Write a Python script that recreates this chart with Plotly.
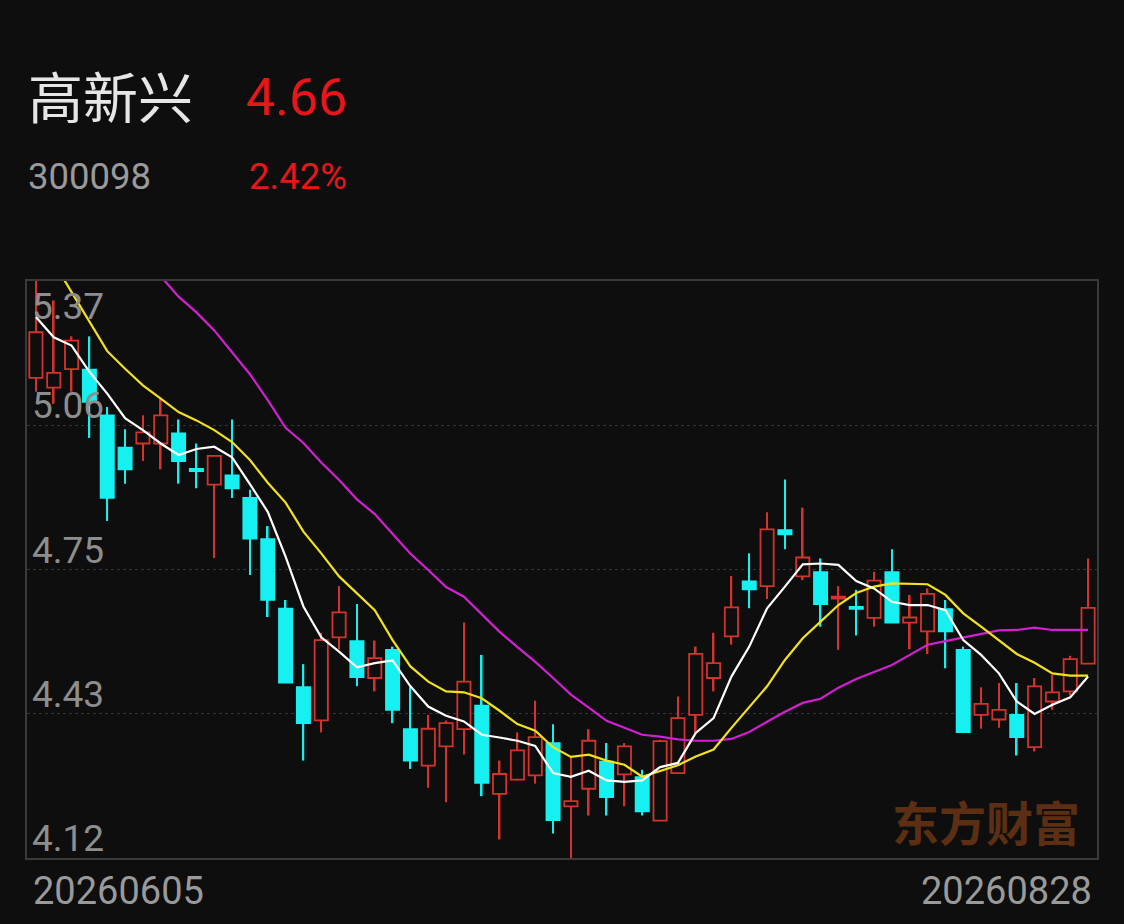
import pandas as pd
import plotly.graph_objects as go

# --- data ---
stock_name = "高新兴"
stock_code = "300098"
last_price = "4.66"
pct_change = "2.42%"

# trading days 2026-06-05 .. 2026-08-28 (Dragon Boat holiday 06-19 closed)
days = pd.bdate_range("2026-06-05", "2026-08-28")
days = days[days != pd.Timestamp("2026-06-19")]
dates = [d.strftime("%Y%m%d") for d in days]

opens = [5.160, 5.139, 5.179, 5.178, 5.079, 5.009, 5.018, 5.018, 5.040, 4.963,
         4.929, 4.949, 4.900, 4.811, 4.660, 4.490, 4.418, 4.598, 4.590, 4.510,
         4.571, 4.399, 4.320, 4.362, 4.399, 4.450, 4.259, 4.290, 4.299, 4.369,
         4.232, 4.270, 4.329, 4.301, 4.295, 4.201, 4.304, 4.430, 4.510, 4.600,
         4.719, 4.709, 4.830, 4.730, 4.739, 4.682, 4.664, 4.640, 4.739, 4.630,
         4.611, 4.659, 4.571, 4.430, 4.420, 4.430, 4.360, 4.459, 4.481, 4.541]
highs = [5.380, 5.328, 5.250, 5.250, 5.097, 5.049, 5.079, 5.115, 5.070, 5.018,
         4.993, 5.070, 4.918, 4.839, 4.679, 4.540, 4.608, 4.709, 4.670, 4.591,
         4.578, 4.490, 4.430, 4.418, 4.630, 4.560, 4.331, 4.392, 4.461, 4.410,
         4.340, 4.399, 4.369, 4.369, 4.311, 4.376, 4.470, 4.578, 4.608, 4.731,
         4.780, 4.869, 4.940, 4.879, 4.769, 4.709, 4.701, 4.740, 4.789, 4.690,
         4.704, 4.679, 4.578, 4.490, 4.499, 4.499, 4.510, 4.517, 4.558, 4.769]
lows = [5.130, 5.104, 5.130, 5.030, 4.850, 4.931, 4.980, 4.962, 4.931, 4.921,
        4.770, 4.900, 4.733, 4.642, 4.500, 4.331, 4.392, 4.572, 4.492, 4.481,
        4.412, 4.313, 4.272, 4.241, 4.344, 4.254, 4.160, 4.288, 4.281, 4.173,
        4.110, 4.212, 4.212, 4.232, 4.212, 4.200, 4.302, 4.391, 4.481, 4.582,
        4.661, 4.681, 4.789, 4.722, 4.621, 4.571, 4.602, 4.621, 4.630, 4.572,
        4.562, 4.531, 4.393, 4.400, 4.402, 4.342, 4.351, 4.441, 4.472, 4.541]
closes = [5.259, 5.171, 5.241, 5.108, 4.900, 4.962, 5.042, 5.079, 4.980, 4.958,
          4.991, 4.921, 4.812, 4.679, 4.500, 4.412, 4.592, 4.652, 4.512, 4.553,
          4.441, 4.331, 4.400, 4.412, 4.502, 4.283, 4.302, 4.353, 4.382, 4.202,
          4.243, 4.374, 4.252, 4.362, 4.221, 4.373, 4.423, 4.562, 4.542, 4.663,
          4.702, 4.832, 4.821, 4.771, 4.670, 4.686, 4.660, 4.721, 4.630, 4.641,
          4.692, 4.611, 4.393, 4.454, 4.441, 4.382, 4.492, 4.479, 4.551, 4.662]

ma5 = [5.292, 5.248, 5.230, 5.173, 5.126, 5.073, 5.047, 5.018, 4.993, 5.006,
       5.011, 4.988, 4.930, 4.870, 4.773, 4.665, 4.598, 4.567, 4.533, 4.542,
       4.548, 4.492, 4.448, 4.428, 4.416, 4.387, 4.381, 4.374, 4.363, 4.304,
       4.296, 4.309, 4.288, 4.285, 4.288, 4.317, 4.326, 4.391, 4.423, 4.513,
       4.578, 4.661, 4.708, 4.756, 4.758, 4.755, 4.720, 4.704, 4.675, 4.668,
       4.668, 4.657, 4.592, 4.560, 4.520, 4.459, 4.432, 4.452, 4.468, 4.513]
ma10 = [5.470, 5.410, 5.346, 5.281, 5.218, 5.180, 5.144, 5.115, 5.086, 5.068,
        5.047, 5.021, 4.982, 4.933, 4.890, 4.827, 4.780, 4.730, 4.694, 4.657,
        4.592, 4.535, 4.502, 4.481, 4.479, 4.466, 4.439, 4.410, 4.396, 4.360,
        4.339, 4.344, 4.331, 4.322, 4.296, 4.308, 4.321, 4.340, 4.355, 4.402,
        4.448, 4.492, 4.549, 4.596, 4.632, 4.668, 4.694, 4.708, 4.715, 4.714,
        4.713, 4.690, 4.650, 4.621, 4.592, 4.562, 4.543, 4.520, 4.515, 4.515]
ma20 = [5.660, 5.620, 5.580, 5.540, 5.500, 5.460, 5.420, 5.380, 5.336, 5.302,
        5.263, 5.215, 5.168, 5.112, 5.052, 5.019, 4.977, 4.939, 4.897, 4.865,
        4.822, 4.779, 4.744, 4.707, 4.686, 4.647, 4.610, 4.577, 4.545, 4.510,
        4.474, 4.446, 4.417, 4.402, 4.387, 4.383, 4.377, 4.374, 4.374, 4.378,
        4.393, 4.415, 4.437, 4.456, 4.465, 4.489, 4.508, 4.523, 4.538, 4.560,
        4.582, 4.590, 4.598, 4.606, 4.613, 4.614, 4.619, 4.614, 4.614, 4.614]

y_ticks = [4.12, 4.4325, 4.745, 5.0575, 5.37]
y_tick_text = ["4.12", "4.43", "4.75", "5.06", "5.37"]

# --- look ---
BG = "#0e0e0e"
RED = "#d2342c"
CYAN = "#16f0f0"
FONT = "Roboto, Noto Sans CJK SC, sans-serif"
W, H = 1124, 924
L, R, T, B = 27, 27, 281, 66


def px(x):
    return (x - L) / (W - L - R)


def py(y):
    return (H - B - y) / (H - T - B)


up = [c >= o for o, c in zip(opens, closes)]
colors = [RED if u else CYAN for u in up]
fills = [BG if u else CYAN for u in up]

fig = go.Figure()
# wicks: thin bars from low to high
fig.add_trace(go.Bar(
    x=dates, base=lows, y=[h - l for h, l in zip(highs, lows)], width=0.09,
    marker=dict(color=colors, line=dict(width=0)),
    showlegend=False, hoverinfo="skip",
))
# bodies: hollow red for up days, solid cyan for down days
fig.add_trace(go.Bar(
    x=dates, base=[min(o, c) for o, c in zip(opens, closes)],
    y=[max(abs(c - o), 0.003) for o, c in zip(opens, closes)], width=0.74,
    marker=dict(color=fills, line=dict(color=colors, width=1.8)),
    showlegend=False, hoverinfo="skip",
))
for vals, col in [(ma20, "#d21fd2"), (ma10, "#f2e21c"), (ma5, "#ffffff")]:
    fig.add_trace(go.Scatter(x=dates, y=vals, mode="lines",
                             line=dict(color=col, width=2.2), showlegend=False,
                             hoverinfo="skip"))

ann = []
# header
ann.append(dict(text=stock_name, x=px(26), y=py(94), xanchor="left", yanchor="middle",
                font=dict(size=55, color="#e6e6e6", family="Noto Sans CJK SC")))
ann.append(dict(text=last_price, x=px(244), y=py(97), xanchor="left", yanchor="middle",
                font=dict(size=52, color="#e8161a", family=FONT)))
ann.append(dict(text=stock_code, x=px(26), y=py(176), xanchor="left", yanchor="middle",
                font=dict(size=36.5, color="#9a9a9a", family=FONT)))
ann.append(dict(text=pct_change, x=px(247), y=py(176), xanchor="left", yanchor="middle",
                font=dict(size=36.5, color="#e8161a", family=FONT)))
# y labels inside plot, sitting above their grid lines
for v, t in zip(y_ticks, y_tick_text):
    top = v == y_ticks[-1]
    ann.append(dict(text=t, xref="paper", yref="y", x=px(30), y=v,
                    xanchor="left", yanchor="top" if top else "bottom",
                    yshift=-2 if top else -4,
                    font=dict(size=37, color="#8e8e8e", family=FONT)))
# date labels under the plot
ann.append(dict(text=dates[0], x=px(31), y=py(891), xanchor="left", yanchor="middle",
                font=dict(size=38, color="#9a9a9a", family=FONT)))
ann.append(dict(text=dates[-1], x=px(1094), y=py(891), xanchor="right", yanchor="middle",
                font=dict(size=38, color="#9a9a9a", family=FONT)))
# watermark
ann.append(dict(text="<b>东方财富</b>", x=px(986), y=py(820), xanchor="center", yanchor="middle",
                font=dict(size=47, color="#5c2e14", family="Noto Sans CJK SC")))
for a in ann:
    a.setdefault("xref", "paper")
    a.setdefault("yref", "paper")
    a["showarrow"] = False

fig.update_layout(
    width=W, height=H,
    margin=dict(l=L, r=R, t=T, b=B),
    paper_bgcolor=BG, plot_bgcolor=BG,
    barmode="overlay",
    annotations=ann,
    xaxis=dict(type="category", range=[-0.5, len(dates) - 0.5], showticklabels=False,
               showgrid=False, zeroline=False,
               showline=True, mirror=True, linecolor="#3a3a3a", linewidth=1.5),
    yaxis=dict(range=[y_ticks[0], y_ticks[-1]], tickvals=y_ticks, showticklabels=False,
               showgrid=True, gridcolor="#353535", griddash="dot", gridwidth=1,
               zeroline=False, showline=True, mirror=True, linecolor="#3a3a3a", linewidth=1.5),
)

fig.write_html("out.html", config={"displayModeBar": False},
               post_script="document.body.style.margin='0';")
